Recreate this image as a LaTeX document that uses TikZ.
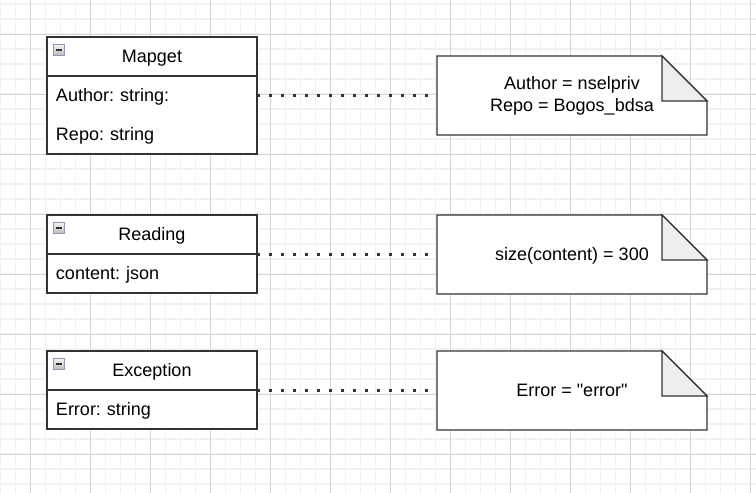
\documentclass[tikz,border=0pt]{standalone}
\usepackage{fontspec}
\setmainfont{Liberation Sans}[Ligatures=TeXOff]
\frenchspacing
\usepackage{tikz}
\usetikzlibrary{positioning,backgrounds}

\definecolor{gridminor}{HTML}{F2F2F2}
\definecolor{gridmajor}{HTML}{D6D6D6}
\definecolor{edge}{HTML}{333333}
\definecolor{foldgray}{HTML}{EEEEEE}

\begin{document}
\begin{tikzpicture}[
    x=1pt, y=-1pt,
    header/.style={rectangle, draw=edge, line width=1.3pt, fill=white, minimum width=210pt, minimum height=39pt, inner sep=0pt, outer sep=0pt, text height=12.9pt, text depth=0pt, font=\fontsize{18}{22}\selectfont},
    fields/.style={rectangle, draw=edge, line width=1.3pt, fill=white, text width=192pt, inner xsep=9pt, inner ysep=0pt, outer sep=0pt, align=left, text height=12.9pt, text depth=0pt, font=\fontsize{18}{39}\selectfont},
    toggle/.style={rectangle, draw=blue!20!gray!70, line width=0.7pt, top color=gray!10, bottom color=gray!50, minimum size=10.5pt, inner sep=0pt, anchor=north west,
        path picture={\draw[edge, line width=2pt] ([xshift=2.4pt]path picture bounding box.west) -- ([xshift=-2.4pt]path picture bounding box.east);}},
    note/.style={rectangle, minimum width=270pt, minimum height=79pt, inner sep=0pt, outer sep=0pt, align=center, anchor=north west, text height=12.9pt, text depth=0pt, font=\fontsize{18}{22}\selectfont},
    noteline/.style={draw=edge, line width=1.3pt, fill=white, line join=miter},
    fold/.style={draw=edge, line width=1.3pt, fill=foldgray},
    dotline/.style={edge, line width=2.6pt, dash pattern=on 2.6pt off 9.4pt, shorten >=9pt}
]
    \useasboundingbox (0,0) rectangle (756,493);

    % Mapget
    \node[header, anchor=north west] (mapget) at (47,37) {Mapget};
    \node[fields, minimum height=78pt, text depth=39pt, below=0pt of mapget] (mapgetbody) {Author: string:\\Repo: string};
    \node[toggle] (mapgettoggle) at ([xshift=6.3pt,yshift=-7pt]mapget.north west) {};

    % Reading
    \node[header, anchor=north west] (reading) at (47,215) {Reading};
    \node[fields, minimum height=39pt, below=0pt of reading] (readingbody) {content: json};
    \node[toggle] (readingtoggle) at ([xshift=6.3pt,yshift=-7pt]reading.north west) {};

    % Exception
    \node[header, anchor=north west] (exception) at (47,351) {Exception};
    \node[fields, minimum height=39pt, below=0pt of exception] (exceptionbody) {Error: string};
    \node[toggle] (exceptiontoggle) at ([xshift=6.3pt,yshift=-7pt]exception.north west) {};

    % Notes
    \node[note, text height={}, text depth={}, yshift=-1pt] (mapgetnote) at (437,55) {Author = nselpriv\\Repo = Bogos\_bdsa};
    \node[note] (readingnote) at (437,215) {size(content) = 300};
    \node[note] (exceptionnote) at (437,351) {Error = "error"};

    % grid and note outlines behind
    \begin{scope}[on background layer]
        \foreach \i in {0,...,50} \draw[gridminor, line width=1.4pt] (0.3+15*\i,0) -- (0.3+15*\i,493);
        \foreach \i in {0,...,33} \draw[gridminor, line width=1.4pt] (0,4+15*\i) -- (756,4+15*\i);
        \foreach \i in {0,...,12} \draw[gridmajor, line width=0.8pt] (30.3+60*\i,0) -- (30.3+60*\i,493);
        \foreach \i in {0,...,7} \draw[gridmajor, line width=0.8pt] (0,34+60*\i) -- (756,34+60*\i);
        \foreach \n in {mapgetnote,readingnote,exceptionnote}{
            \draw[noteline] (\n.north west) -- ([xshift=-45pt]\n.north east) -- ([yshift=-45pt]\n.north east) -- (\n.south east) -- (\n.south west) -- cycle;
            \draw[fold] ([xshift=-45pt]\n.north east) -- ([yshift=-45pt]\n.north east) -- ([shift={(-45pt,-45pt)}]\n.north east) -- cycle;
        }
    \end{scope}

    % Dotted links
    \draw[dotline] (mapgetnote.west -| mapgetbody.east) -- (mapgetnote.west);
    \draw[dotline] (readingnote.west -| readingbody.east) -- (readingnote.west);
    \draw[dotline] (exceptionnote.west -| exceptionbody.east) -- (exceptionnote.west);
\end{tikzpicture}
\end{document}
